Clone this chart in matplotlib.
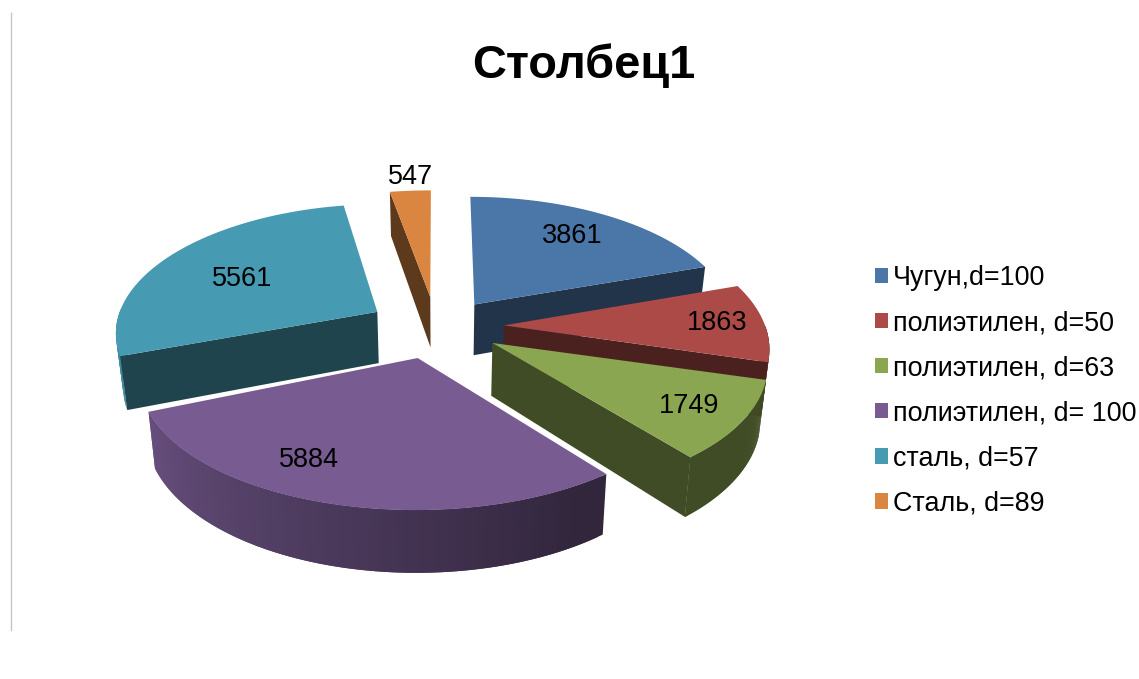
import numpy as np
import matplotlib
matplotlib.use("Agg")
import matplotlib.pyplot as plt
from matplotlib.patches import Polygon, Patch
from matplotlib.colors import to_rgb

plt.rcParams['font.family'] = ['Liberation Sans', 'DejaVu Sans']

TITLE = "Столбец1"
categories = ["Чугун,d=100", "полиэтилен, d=50", "полиэтилен, d=63",
              "полиэтилен, d= 100", "сталь, d=57", "Сталь, d=89"]
values = [3861, 1863, 1749, 5884, 5561, 547]
top_colors = ["#4A76A8", "#AB4A47", "#8BA650", "#775B91", "#469AB2", "#DA8640"]
side_factor = [0.44, 0.44, 0.46, 0.42, 0.44, 0.43]

# view model
CX, CY = 441, 325
SX, SY, KP, HZ, ZSHRINK = 275, 129.5, 0.15, 52, 0.022
EXPLODE = 0.2
nudge_px = [(2, 0), (8, 1), (4, 4), (-11, 7), (-16, -1), (-6, -3)]
rx_scale = [0.955, 0.95, 0.97, 0.97, 0.95, 1.0]
ry_scale = [1.0, 1.0, 0.97, 0.945, 0.98, 1.0]
# small view corrections of the slice edges, degrees
start_shift = [0, 0, 0, 4, 3, 0]
end_shift = [0, 0, 3, 0, 0, 0]
label_frac = [0.73, 0.78, 0.78, 0.745, 0.59, 1.153]
label_angle = [34, 88.6, 124.3, 207, 297, 355.6]

fig = plt.figure(figsize=(11.39, 6.79), dpi=100)
ax = fig.add_axes([0, 0, 1, 1])
ax.set_xlim(0, 1139)
ax.set_ylim(679, 0)
ax.axis("off")


def project(x, y, z, nudge=(0, 0)):
    w = 1 + KP * y
    off = (SX * x / w + nudge[0]) * (1 + ZSHRINK * z)
    return CX + off, CY - (SY * y + HZ * z) / w + nudge[1]


vals = np.asarray(values, float)
edges = np.concatenate([[0], np.cumsum(vals) / vals.sum() * 360])


def wall_factor(t):
    return np.interp(t, [90, 150, 250, 270], [0.42, 0.42, 0.88, 0.9])


def draw_wedge(i, zo):
    t0, t1 = edges[i], edges[i + 1]
    mid = np.radians((t0 + t1) / 2)
    ex, ey = EXPLODE * np.sin(mid), EXPLODE * np.cos(mid)
    n = nudge_px[i]
    ts = np.linspace(t0 + start_shift[i], t1 + end_shift[i], 80)
    rad = np.radians(ts)
    xs = ex + rx_scale[i] * np.sin(rad)
    ys = ey + ry_scale[i] * np.cos(rad)
    base = np.array(to_rgb(top_colors[i]))
    dark = tuple(base * side_factor[i])

    def P(x, y, z):
        return project(x, y, z, n)

    # outer wall: strips overlap the next one, so no seams show
    for j in range(len(ts) - 1):
        tm = (ts[j] + ts[j + 1]) / 2
        if 90 <= tm <= 270:
            f = wall_factor(tm) if i in (3, 4) else side_factor[i]
            c = tuple(base * f)
            k = min(j + 2, len(ts) - 1)
            quad = [P(xs[j], ys[j], 0), P(xs[k], ys[k], 0),
                    P(xs[k], ys[k], -1), P(xs[j], ys[j], -1)]
            ax.add_patch(Polygon(quad, closed=True, fc=c, ec="none", lw=0, zorder=zo))
    # radial faces
    if np.sin(np.radians(t0)) < -1e-6:
        quad = [P(ex, ey, 0), P(xs[0], ys[0], 0), P(xs[0], ys[0], -1), P(ex, ey, -1)]
        ax.add_patch(Polygon(quad, closed=True, fc=dark, ec="none", lw=0, zorder=zo + 0.1))
    if np.sin(np.radians(t1)) > 1e-6:
        quad = [P(ex, ey, 0), P(xs[-1], ys[-1], 0), P(xs[-1], ys[-1], -1), P(ex, ey, -1)]
        ax.add_patch(Polygon(quad, closed=True, fc=dark, ec="none", lw=0, zorder=zo + 0.1))
    # top
    top = [P(ex, ey, 0)] + [P(a, b, 0) for a, b in zip(xs, ys)]
    ax.add_patch(Polygon(top, closed=True, fc=top_colors[i], ec="none", lw=0, zorder=zo + 0.2))
    # label
    la = np.radians(label_angle[i])
    lx = ex + label_frac[i] * np.sin(la)
    ly = ey + label_frac[i] * np.cos(la)
    px, py = P(lx, ly, 0)
    ax.text(px, py, str(values[i]), ha="center", va="center", fontsize=19.5,
            color="black", zorder=20)


paint_order = [5, 0, 4, 1, 2, 3]
for k, i in enumerate(paint_order):
    draw_wedge(i, 2 + k)

ax.plot([10.5, 10.5], [13, 630], color="#c6c6c6", lw=1, zorder=1)
ax.text(584, 66, TITLE, ha="center", va="center", fontsize=33.8, fontweight="bold", color="black")

handles = [Patch(fc=c, ec="none") for c in top_colors]
ax.legend(handles, categories, loc="upper left", bbox_to_anchor=(875 / 1139, 1 - 265 / 679),
          frameon=False, fontsize=19.4, handlelength=0.49, handleheight=0.49,
          handletextpad=0.19, labelspacing=0.71, borderaxespad=0, borderpad=0)

fig.savefig("out.png", dpi=100, facecolor="white")
